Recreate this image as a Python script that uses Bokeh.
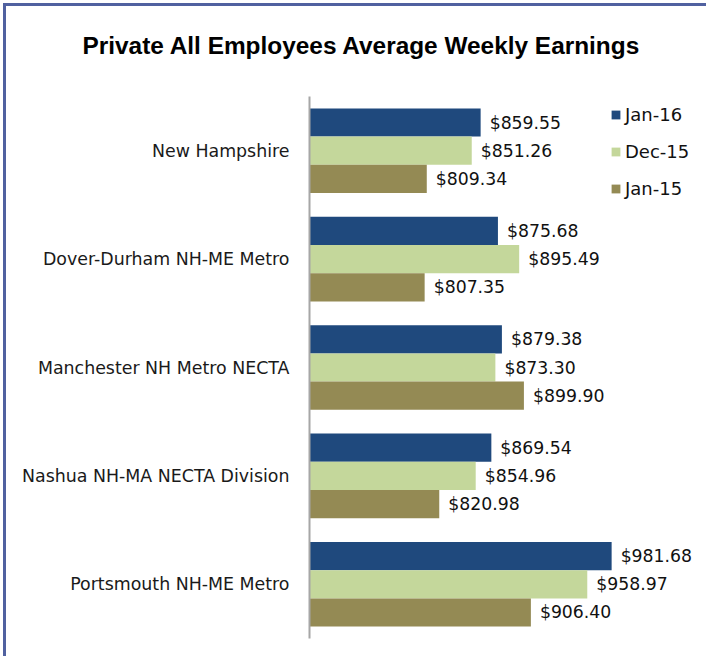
from bokeh.plotting import figure
from bokeh.models import ColumnDataSource, FactorRange, Range1d, Legend, LegendItem, Title
from bokeh.transform import dodge
from bokeh.core.properties import value
from bokeh.embed import file_html
from bokeh.resources import INLINE

title_text = "Private All Employees Average Weekly Earnings"
areas = [
    "New Hampshire",
    "Dover-Durham NH-ME Metro",
    "Manchester NH Metro NECTA",
    "Nashua NH-MA NECTA Division",
    "Portsmouth NH-ME Metro",
]
series_names = ["Jan-16", "Dec-15", "Jan-15"]
jan16 = [859.55, 875.68, 879.38, 869.54, 981.68]
dec15 = [851.26, 895.49, 873.30, 854.96, 958.97]
jan15 = [809.34, 807.35, 899.90, 820.98, 906.40]
colors = ["#1f497d", "#c4d79b", "#948a54"]

x_start = 700
px_per_dollar = 1.0726
W, H = 703, 653
ML, MR, MT, MB = 303, 0, 90, 21
frame_w = W - ML - MR

p = figure(width=W, height=H, output_backend="svg", toolbar_location=None,
           y_range=FactorRange(factors=areas[::-1], range_padding=0),
           x_range=Range1d(x_start, x_start + frame_w / px_per_dollar),
           x_axis_location=None,
           min_border_left=ML, min_border_right=MR, min_border_top=MT, min_border_bottom=MB)
p.styles = {"margin-left": "3px", "margin-top": "3px",
            "border-top": "3px solid #5061a0", "border-left": "3px solid #5061a0"}
p.outline_line_color = None
p.xgrid.visible = False
p.ygrid.visible = False
p.background_fill_color = "white"
p.border_fill_color = "white"

ax = p.yaxis[0]
ax.axis_line_color = "#a6a6a6"
ax.axis_line_width = 2
ax.major_tick_line_color = None
ax.minor_tick_line_color = None
ax.major_label_standoff = 14
ax.major_label_text_font = "DejaVu Sans"
ax.major_label_text_font_size = "17.4px"
ax.major_label_text_color = "#1a1a1a"

data = dict(area=areas)
series = [jan16, dec15, jan15]
offsets = [0.26, 0.0, -0.26]
for name, vals in zip(series_names, series):
    data[name] = vals
    data[name + "_lbl"] = ["$%.2f" % v for v in vals]
src = ColumnDataSource(data)

items = []
for name, off, col in zip(series_names, offsets, colors):
    r = p.hbar(y=dodge("area", off, range=p.y_range), left=x_start, right=name,
               height=0.26, fill_color=col, line_color=None, source=src)
    p.text(x=name, y=dodge("area", off, range=p.y_range), text=name + "_lbl",
           x_offset=9, text_baseline="middle", text_align="left",
           text_font=value("DejaVu Sans"), text_font_size="17.3px",
           text_color="#111111", source=src)
    items.append(LegendItem(label=name, renderers=[r]))

legend = Legend(items=items, location=(301, 439), padding=0, margin=0,
                spacing=16, label_height=20, glyph_height=11, glyph_width=11,
                label_standoff=4, border_line_color=None, background_fill_alpha=0,
                label_text_font="DejaVu Sans", label_text_font_size="18px",
                label_text_color="#111111")
p.add_layout(legend)

# spacer between frame and title, then the title itself
p.add_layout(Title(text=" ", text_font_size="1px", standoff=35), "above")
p.add_layout(Title(text=title_text, align="left", offset=-227, standoff=0,
                   text_font="Liberation Sans", text_font_style="bold",
                   text_font_size="24.4px", text_color="#000000"), "above")

open("out.html", "w").write(file_html(p, INLINE))
